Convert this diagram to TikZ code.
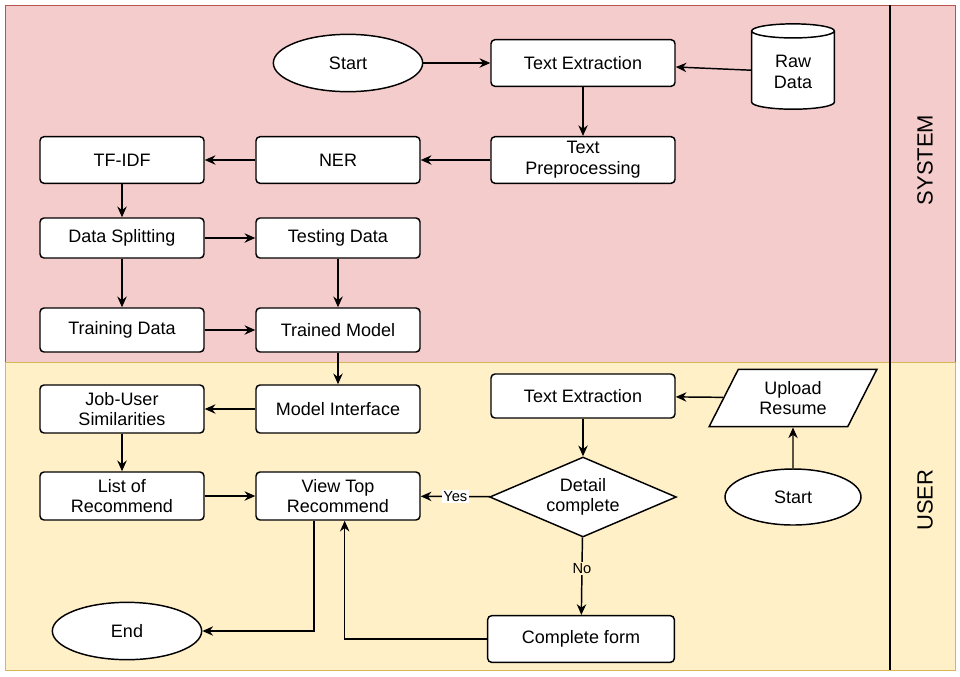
\documentclass[tikz,border=0pt]{standalone}
\usepackage{fontspec}
\setmainfont{Liberation Sans}
\usetikzlibrary{arrows.meta, positioning, quotes, shapes.geometric}
\definecolor{sysfill}{HTML}{F5CCCC}
\definecolor{sysline}{HTML}{B85450}
\definecolor{usrfill}{HTML}{FFF0C8}
\definecolor{usrline}{HTML}{D6B656}
\begin{document}
\begin{tikzpicture}[x=0.75pt, y=-0.75pt,
						block/.style={draw, rectangle, rounded corners=3pt, line width=1.1pt, fill=white, minimum width=123pt, minimum height=35pt, align=center, font=\fontsize{13.5}{15.5}\selectfont},
						term/.style={draw, ellipse, line width=1.1pt, fill=white, minimum width=112pt, minimum height=43pt, font=\fontsize{13.5}{15.5}\selectfont},
						every edge/.append style={draw, line width=1.1pt, -{Stealth[length=8pt,width=7pt]}, font=\fontsize{11}{13}\selectfont},]
		\useasboundingbox (0,0) rectangle (960,676);
		\draw[sysline, fill=sysfill] (5,5) rectangle (955,362);
		\draw[usrline, fill=usrfill] (5,362) rectangle (955,670);
		\draw[line width=1.1pt] (890,5) -- (890,670);
		\node[rotate=90, font=\fontsize{16.5}{18}\selectfont] at (925,160) {SYSTEM};
		\node[rotate=90, font=\fontsize{16.5}{18}\selectfont] at (925,500) {USER};

		% system lane
		\node (start) [term] at (348,63) {Start};
		\node (extract) [block, minimum width=138pt] at (583,63) {Text Extraction};
		\node (raw) [draw, line width=1.1pt, fill=white, cylinder, shape border rotate=90, aspect=0.3, minimum width=62pt, minimum height=64pt, align=center, font=\fontsize{13.5}{15.5}\selectfont] at (793,72) {Raw\\Data};
		\node (prep) [block, minimum width=138pt] at (583,160) {Text\\Preprocessing};
		\node (ner) [block] at (338,160) {NER};
		\node (tfidf) [block] at (122,160) {TF-IDF};
		\node (split) [block, minimum height=30pt] at (122,238) {Data Splitting};
		\node (test) [block, minimum height=30pt] at (338,238) {Testing Data};
		\node (train) [block, minimum height=33pt] at (122,330) {Training Data};
		\node (model) [block, minimum height=33pt] at (338,330) {Trained Model};

		% user lane
		\node (iface) [block, minimum height=36pt] at (338,409) {Model Interface};
		\node (sim) [block, minimum height=36pt] at (122,409) {Job-User\\Similarities};
		\node (list) [block, minimum height=36pt] at (122,496) {List of\\Recommend};
		\node (view) [block, minimum height=36pt] at (338,496) {View Top\\Recommend};
		\node (extract2) [block, minimum width=138pt, minimum height=33pt] at (583,396) {Text Extraction};
		\node (upload) [draw, line width=1.1pt, fill=white, trapezium, trapezium left angle=63, trapezium right angle=117, minimum width=126pt, minimum height=36pt, inner sep=1pt, align=center, font=\fontsize{13.5}{15.5}\selectfont] at (793,398) {Upload\\Resume};
		\node (check) [draw, line width=1.1pt, fill=white, diamond, aspect=2.4, inner sep=1pt, minimum width=140pt, minimum height=60pt, align=center, font=\fontsize{13.5}{15.5}\selectfont] at (583,497) {Detail\\complete};
		\node (start2) [term, minimum width=102pt, minimum height=42pt] at (793,497) {Start};
		\node (end) [term] at (127,631) {End};
		\node (form) [block, minimum width=140pt] at (581,639) {Complete form};

		\path 	(start) edge (extract)
				(raw) edge (extract)
				(extract) edge (prep)
				(prep) edge (ner)
				(ner) edge (tfidf)
				(tfidf) edge (split)
				(split) edge (test)
				(split) edge (train)
				(test) edge (model)
				(train) edge (model)
				(model) edge (iface)
				(iface) edge (sim)
				(sim) edge (list)
				(list) edge (view)
				(start2) edge (upload)
				(upload) edge (extract2)
				(extract2) edge (check)
				(check) edge node[fill=white, inner sep=1pt] {Yes} (view)
				(check) edge node[fill=usrfill, inner sep=1pt, pos=0.4] {No} (form);
		\draw[line width=1.1pt, -{Stealth[length=8pt,width=7pt]}] (form.west) -| ([xshift=5pt]view.south);
		\draw[line width=1.1pt, -{Stealth[length=8pt,width=7pt]}] ([xshift=-18pt]view.south) |- (end.east);
	\end{tikzpicture}
\end{document}
